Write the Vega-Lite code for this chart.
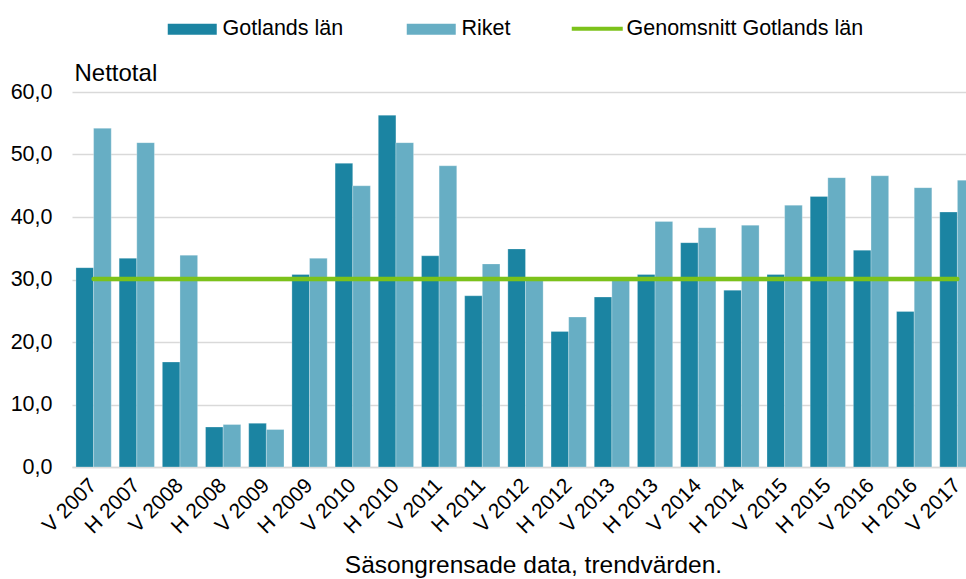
{
  "$schema": "https://vega.github.io/schema/vega-lite/v6.json",
  "width": 895,
  "height": 375,
  "autosize": {"type": "none"},
  "padding": {"left": 72, "top": 92, "right": 0, "bottom": 112},
  "background": "white",
  "config": {
    "font": "Liberation Sans",
    "view": {"stroke": null},
    "axis": {"labelFont": "Liberation Sans", "titleFont": "Liberation Sans", "labelColor": "#000", "titleColor": "#000", "titleFontWeight": "normal"},
    "legend": {"padding": 0, "labelFont": "Liberation Sans", "labelColor": "#000", "labelFontSize": 21.5, "labelLimit": 500}
  },
  "datasets": {
    "bars": [
      {"period": "V 2007", "series": "Gotlands län", "value": 31.9},
      {"period": "V 2007", "series": "Riket", "value": 54.2},
      {"period": "H 2007", "series": "Gotlands län", "value": 33.4},
      {"period": "H 2007", "series": "Riket", "value": 51.9},
      {"period": "V 2008", "series": "Gotlands län", "value": 16.8},
      {"period": "V 2008", "series": "Riket", "value": 33.9},
      {"period": "H 2008", "series": "Gotlands län", "value": 6.4},
      {"period": "H 2008", "series": "Riket", "value": 6.8},
      {"period": "V 2009", "series": "Gotlands län", "value": 7.0},
      {"period": "V 2009", "series": "Riket", "value": 6.0},
      {"period": "H 2009", "series": "Gotlands län", "value": 30.8},
      {"period": "H 2009", "series": "Riket", "value": 33.4},
      {"period": "V 2010", "series": "Gotlands län", "value": 48.6},
      {"period": "V 2010", "series": "Riket", "value": 45.0},
      {"period": "H 2010", "series": "Gotlands län", "value": 56.3},
      {"period": "H 2010", "series": "Riket", "value": 51.9},
      {"period": "V 2011", "series": "Gotlands län", "value": 33.8},
      {"period": "V 2011", "series": "Riket", "value": 48.2},
      {"period": "H 2011", "series": "Gotlands län", "value": 27.4},
      {"period": "H 2011", "series": "Riket", "value": 32.5},
      {"period": "V 2012", "series": "Gotlands län", "value": 34.9},
      {"period": "V 2012", "series": "Riket", "value": 29.9},
      {"period": "H 2012", "series": "Gotlands län", "value": 21.7},
      {"period": "H 2012", "series": "Riket", "value": 24.0},
      {"period": "V 2013", "series": "Gotlands län", "value": 27.2},
      {"period": "V 2013", "series": "Riket", "value": 29.9},
      {"period": "H 2013", "series": "Gotlands län", "value": 30.8},
      {"period": "H 2013", "series": "Riket", "value": 39.3},
      {"period": "V 2014", "series": "Gotlands län", "value": 35.9},
      {"period": "V 2014", "series": "Riket", "value": 38.3},
      {"period": "H 2014", "series": "Gotlands län", "value": 28.3},
      {"period": "H 2014", "series": "Riket", "value": 38.7},
      {"period": "V 2015", "series": "Gotlands län", "value": 30.8},
      {"period": "V 2015", "series": "Riket", "value": 41.9},
      {"period": "H 2015", "series": "Gotlands län", "value": 43.3},
      {"period": "H 2015", "series": "Riket", "value": 46.3},
      {"period": "V 2016", "series": "Gotlands län", "value": 34.7},
      {"period": "V 2016", "series": "Riket", "value": 46.6},
      {"period": "H 2016", "series": "Gotlands län", "value": 24.9},
      {"period": "H 2016", "series": "Riket", "value": 44.7},
      {"period": "V 2017", "series": "Gotlands län", "value": 40.8},
      {"period": "V 2017", "series": "Riket", "value": 45.9}
    ],
    "avg": [
      {"period": "V 2007", "avg": 30.1}, {"period": "H 2007", "avg": 30.1},
      {"period": "V 2008", "avg": 30.1}, {"period": "H 2008", "avg": 30.1},
      {"period": "V 2009", "avg": 30.1}, {"period": "H 2009", "avg": 30.1},
      {"period": "V 2010", "avg": 30.1}, {"period": "H 2010", "avg": 30.1},
      {"period": "V 2011", "avg": 30.1}, {"period": "H 2011", "avg": 30.1},
      {"period": "V 2012", "avg": 30.1}, {"period": "H 2012", "avg": 30.1},
      {"period": "V 2013", "avg": 30.1}, {"period": "H 2013", "avg": 30.1},
      {"period": "V 2014", "avg": 30.1}, {"period": "H 2014", "avg": 30.1},
      {"period": "V 2015", "avg": 30.1}, {"period": "H 2015", "avg": 30.1},
      {"period": "V 2016", "avg": 30.1}, {"period": "H 2016", "avg": 30.1},
      {"period": "V 2017", "avg": 30.1}
    ]
  },
  "encoding": {
    "x": {
      "field": "period", "type": "nominal", "sort": null,
      "scale": {"range": [0, 907], "paddingInner": 0.183, "paddingOuter": 0.0915},
      "axis": {
        "title": "Säsongrensade data, trendvärden.",
        "titleFontSize": 24.5, "titleX": 461, "titleY": 105, "titleBaseline": "alphabetic", "titleAnchor": "middle", "titleAlign": "center",
        "labelFontSize": 21, "labelAngle": -45, "labelAlign": "right", "labelBaseline": "middle",
        "labelPadding": 15, "ticks": false,
        "domainColor": "#d9d9d9", "domainWidth": 1.5, "grid": false
      }
    }
  },
  "layer": [
    {
      "data": {"name": "bars"},
      "mark": {"type": "bar", "stroke": "#ffffff", "strokeOpacity": 0.35, "strokeWidth": 0.8},
      "encoding": {
        "xOffset": {"field": "series", "type": "nominal", "sort": ["Gotlands län", "Riket"]},
        "y": {
          "field": "value", "type": "quantitative",
          "scale": {"domain": [0, 60], "nice": false},
          "axis": {
            "title": "Nettotal", "titleAngle": 0, "titleAlign": "left", "titleBaseline": "alphabetic",
            "titleX": 2, "titleY": -12, "titleFontSize": 24,
            "values": [0, 10, 20, 30, 40, 50, 60],
            "labelExpr": "replace(format(datum.value, '.1f'), '.', ',')",
            "labelFontSize": 21.5, "labelPadding": 20, "ticks": false, "domain": false,
            "gridColor": "#d9d9d9", "gridWidth": 1.5
          }
        },
        "color": {
          "field": "series", "type": "nominal",
          "scale": {"domain": ["Gotlands län", "Riket"], "range": ["#1B84A2", "#67AEC4"]},
          "legend": {
            "title": null, "orient": "none", "direction": "horizontal",
            "legendX": 90, "legendY": -74,
            "symbolType": "M-1,-1.1H8.8V1.1H-1Z", "symbolSize": 100, "symbolStrokeWidth": 0,
            "labelOffset": 39, "columnPadding": 57
          }
        }
      }
    },
    {
      "data": {"name": "avg"},
      "mark": {"type": "line", "strokeWidth": 4.5, "strokeCap": "round"},
      "encoding": {
        "y": {"field": "avg", "type": "quantitative"},
        "stroke": {
          "datum": "Genomsnitt Gotlands län",
          "scale": {"range": ["#7CC21A"]},
          "legend": {
            "title": null, "orient": "none", "direction": "horizontal",
            "legendX": 494, "legendY": -74,
            "symbolType": "M-1,-0.4H9.2V0.4H-1Z", "symbolSize": 100,
            "symbolFillColor": "#7CC21A", "symbolStrokeWidth": 0,
            "labelOffset": 39
          }
        }
      }
    }
  ]
}
